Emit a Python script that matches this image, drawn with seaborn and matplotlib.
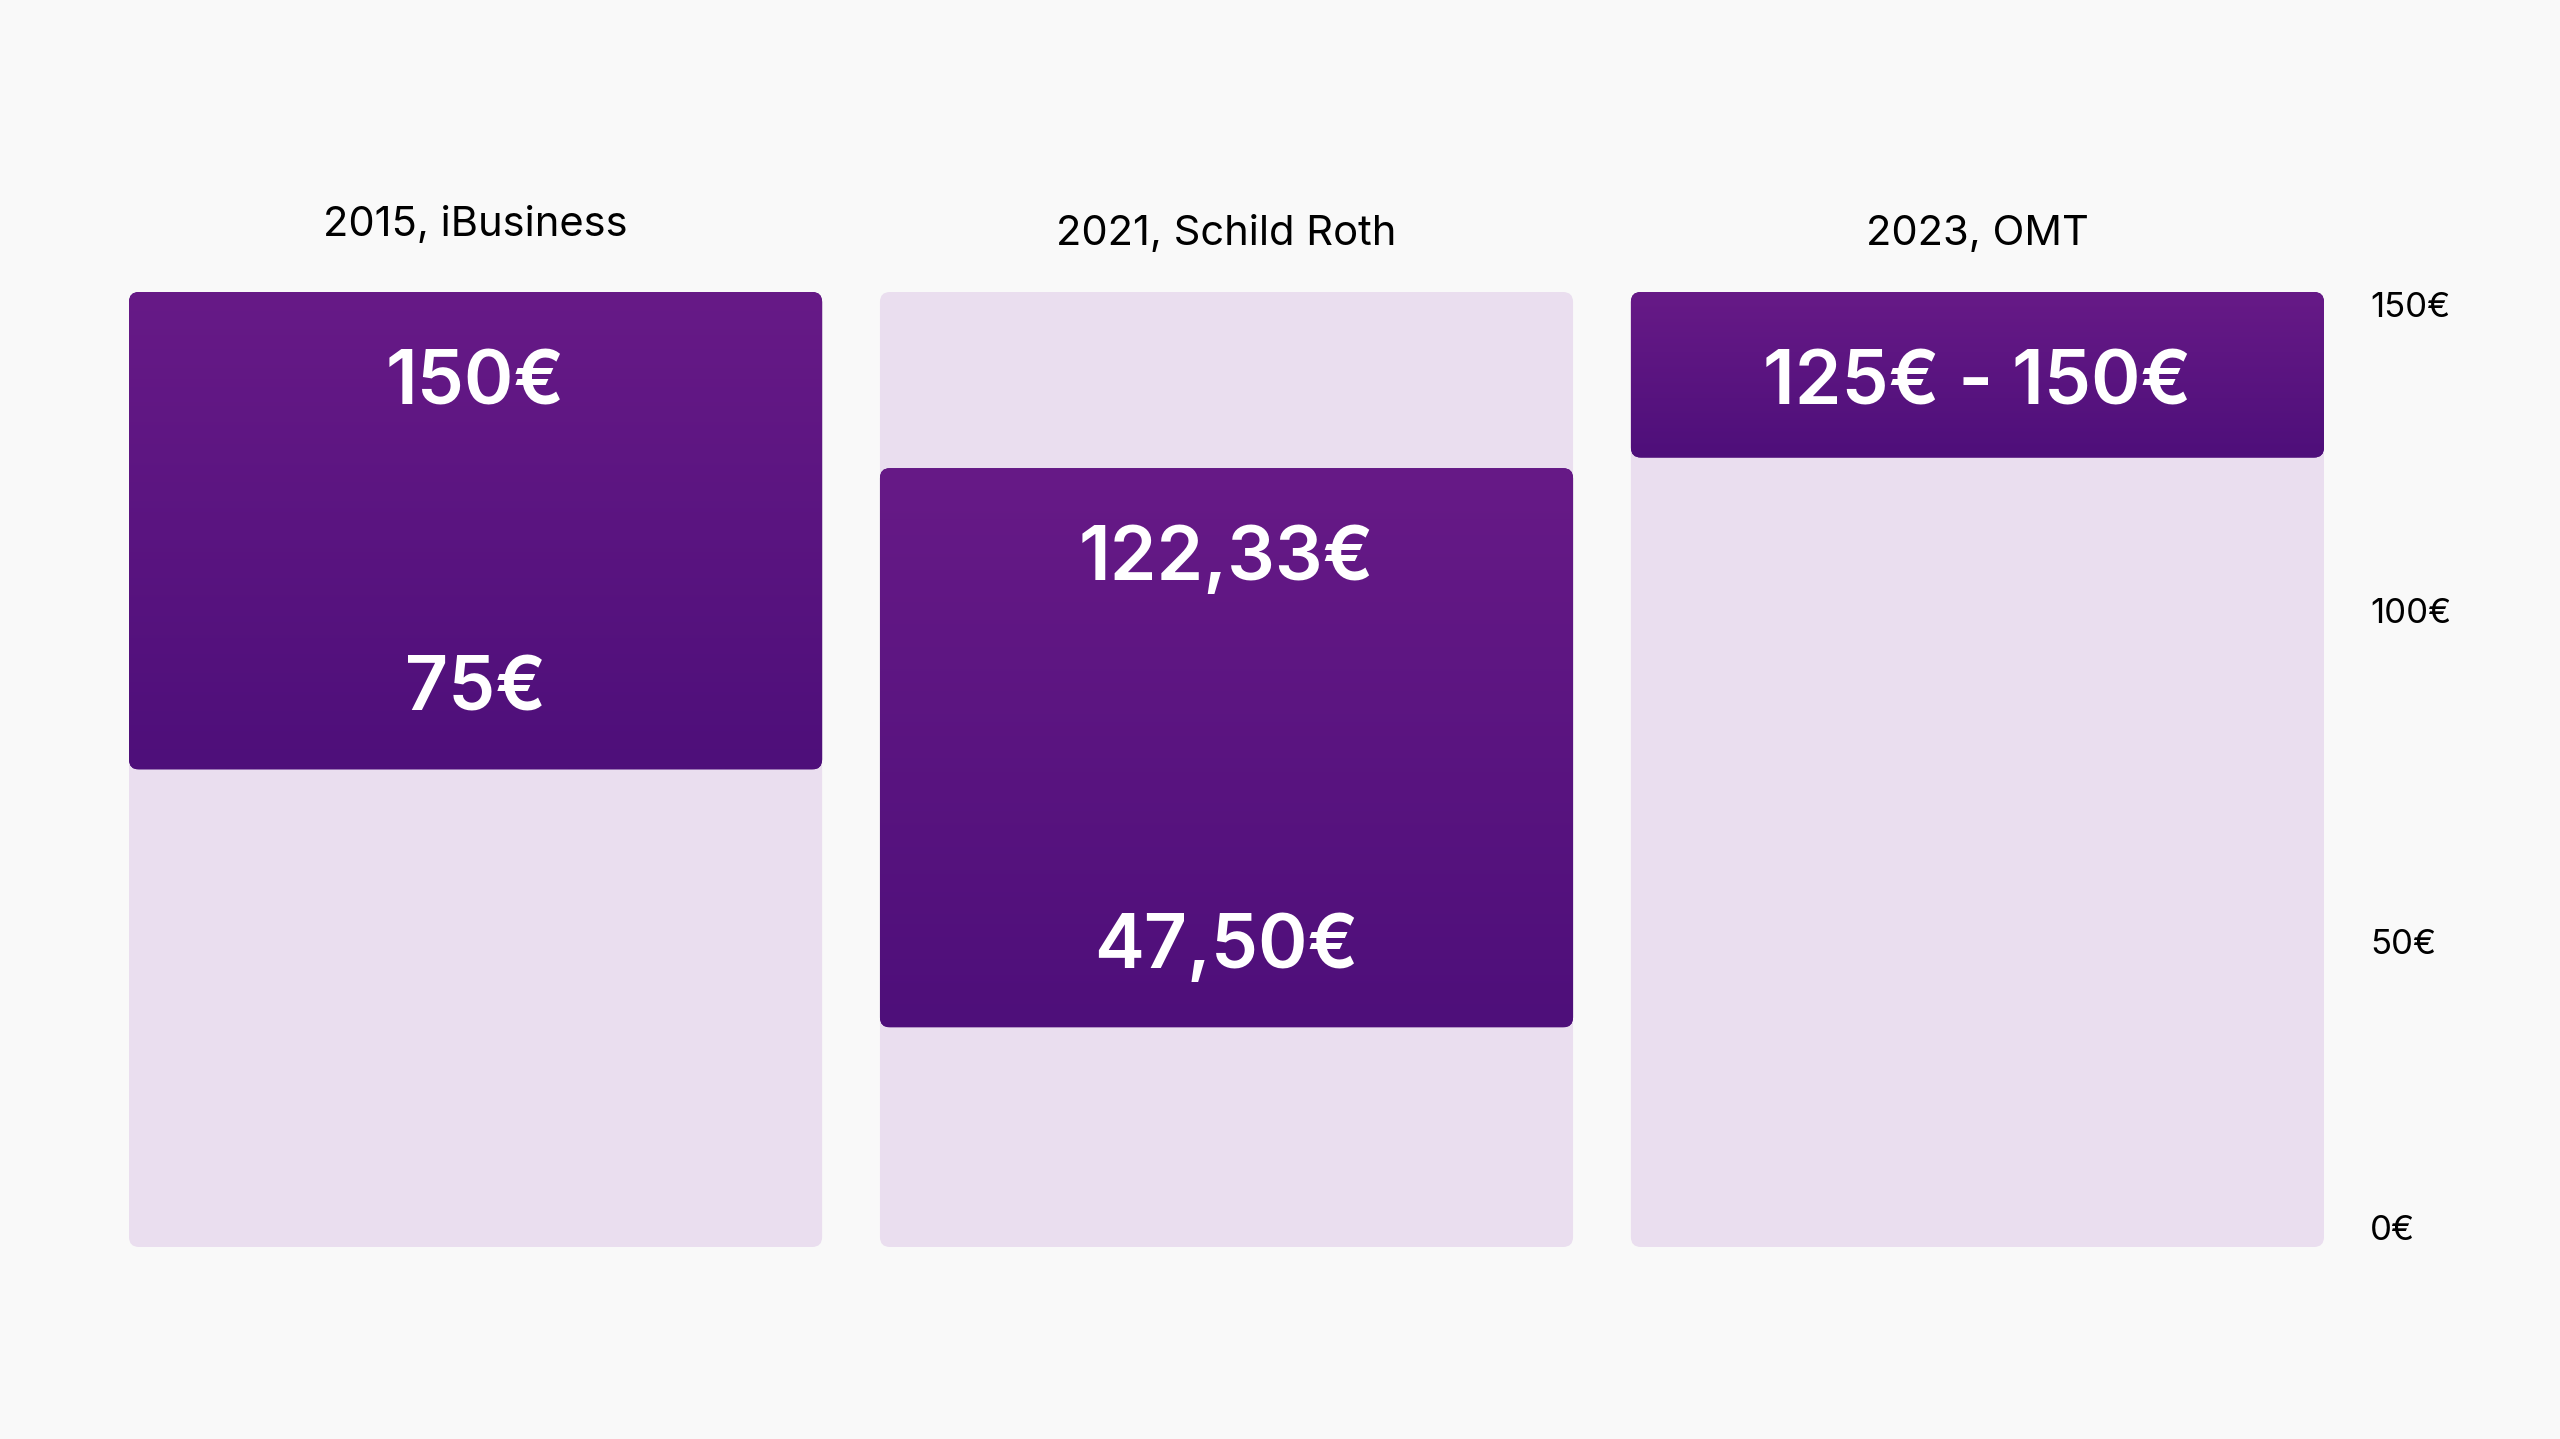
import numpy as np
import pandas as pd
import matplotlib
matplotlib.use("Agg")
import matplotlib.pyplot as plt
from matplotlib.patches import FancyBboxPatch
from matplotlib.colors import LinearSegmentedColormap
import seaborn as sns

# --- data ---
sources = ["2015, iBusiness", "2021, Schild Roth", "2023, OMT"]
range_low = [75, 34.5, 124]          # drawn bottom of each price band
range_high = [150, 122.33, 150]      # drawn top of each price band
top_labels = ["150€", "122,33€", "125€ - 150€"]
bottom_labels = ["75€", "47,50€", ""]
scale_max = 150
tick_values = [0, 50, 100, 150]
tick_labels = ["0€", "50€", "100€", "150€"]

# --- style ---
BG = "#f9f9f9"
LIGHT = "#eadeef"
DARK_TOP = "#671a87"
DARK_BOTTOM = "#4e0f7a"
RADIUS_PX = 10

sns.set_theme(style="white")
plt.rcParams["font.family"] = ["Inter", "DejaVu Sans"]

W, H = 2560, 1439
fig = plt.figure(figsize=(W / 100, H / 100), dpi=100, facecolor=BG)
ax = fig.add_axes([129 / W, (H - 1247) / H, (2324 - 129) / W, (1247 - 292) / H])
ax.set_facecolor(BG)

df = pd.DataFrame({
    "source": sources,
    "low": range_low,
    "high": range_high,
    "max": [scale_max] * len(sources),
})

bar_width = 0.923
sns.barplot(data=df, x="source", y="max", color=LIGHT, saturation=1,
            width=bar_width, ax=ax)
n_bg = len(ax.patches)
sns.barplot(data=df, x="source", y="high", color=DARK_BOTTOM, saturation=1,
            width=bar_width, ax=ax)
bg_patches = list(ax.patches[:n_bg])
band_patches = list(ax.patches[n_bg:])

ax.set_xlim(-bar_width / 2, len(sources) - 1 + bar_width / 2)
ax.set_ylim(0, scale_max)

# pixel sizes of one data unit, for round corners that stay circular
p0 = ax.transData.transform((0, 0))
p1 = ax.transData.transform((1, 1))
px_x, px_y = p1[0] - p0[0], p1[1] - p0[1]
aspect = px_x / px_y


def make_rounded(x, y, w, h, face, z):
    box = FancyBboxPatch((x, y), w, h,
                         boxstyle=f"round,pad=0,rounding_size={RADIUS_PX / px_x}",
                         mutation_aspect=aspect, facecolor=face,
                         edgecolor="none", zorder=z)
    ax.add_patch(box)
    return box


for p in bg_patches:
    x, w, h = p.get_x(), p.get_width(), p.get_height()
    p.remove()
    make_rounded(x, 0, w, h, LIGHT, 1)

grad = np.linspace(0, 1, 256).reshape(-1, 1)
cmap = LinearSegmentedColormap.from_list("band", [DARK_BOTTOM, DARK_TOP])

for i, p in enumerate(band_patches):
    x, w = p.get_x(), p.get_width()
    p.remove()
    lo, hi = range_low[i], range_high[i]
    box = make_rounded(x, lo, w, hi - lo, DARK_BOTTOM, 2)
    im = ax.imshow(grad, cmap=cmap, extent=(x, x + w, lo, hi), origin="lower",
                   aspect="auto", zorder=3, interpolation="bilinear")
    im.set_clip_path(box)

    cx = x + w / 2
    ax.text(cx, hi - 17.6, top_labels[i], ha="center", va="baseline",
            color="white", fontsize=54, fontweight="semibold", zorder=4)
    if bottom_labels[i]:
        ax.text(cx, lo + 9.3, bottom_labels[i], ha="center", va="baseline",
                color="white", fontsize=54, fontweight="semibold", zorder=4)

# headers above each column
title_pad = [8.8, 7.4, 7.4]
for i, name in enumerate(sources):
    ax.text(i, scale_max + title_pad[i], name, ha="center", va="baseline",
            fontsize=30, color="black", clip_on=False)

ax.set_xlim(-bar_width / 2, len(sources) - 1 + bar_width / 2)
ax.set_ylim(0, scale_max)

ax.yaxis.tick_right()
ax.set_yticks(tick_values, tick_labels)
ax.tick_params(axis="y", length=0, pad=33, labelsize=25, labelcolor="black")
ticks = ax.get_yticklabels()
ticks[0].set_va("bottom")
ticks[1].set_va("top")
ticks[-1].set_va("top")
ax.set_xticks([])
ax.set_xlabel("")
ax.set_ylabel("")
for s in ax.spines.values():
    s.set_visible(False)

fig.savefig("out.png", dpi=100, facecolor=BG)
